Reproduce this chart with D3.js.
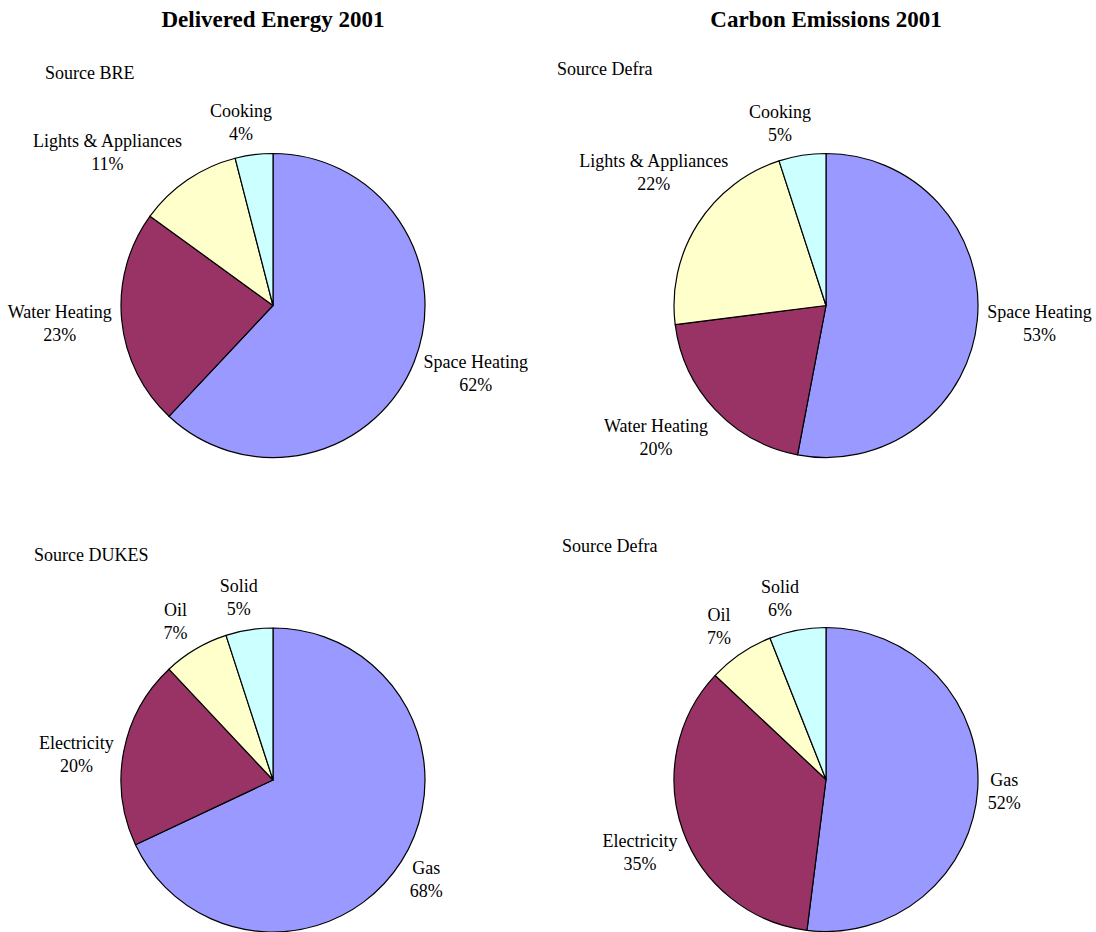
<!DOCTYPE html>
<html>
<head>
<meta charset="utf-8">
<script src="https://cdn.jsdelivr.net/npm/d3@7"></script>
<style>
  html, body { margin: 0; padding: 0; background: #fff; }
  svg { display: block; }
  text { font-family: "Liberation Serif", "Times New Roman", serif; fill: #000; }
</style>
</head>
<body>
<svg id="chart" width="1096" height="932"></svg>
<script>
// Domestic energy use in 2001, shares by end use and by fuel
const endUses = ["Space Heating", "Water Heating", "Lights & Appliances", "Cooking"];
const deliveredByUse = [62, 23, 11, 4];
const carbonByUse = [53, 20, 22, 5];

const fuels = ["Gas", "Electricity", "Oil", "Solid"];
const deliveredByFuel = [68, 20, 7, 5];
const carbonByFuel = [52, 35, 7, 6];

const sliceColours = ["#9999FF", "#993366", "#FFFFCC", "#CCFFFF"];

const columnTitles = ["Delivered Energy 2001", "Carbon Emissions 2001"];
const sources = ["Source BRE", "Source Defra", "Source DUKES", "Source Defra"];

// small hand adjustments to label placement, one [dx, dy] per slice
const labelNudges = [
  [[0, 0], [0, 0], [0, 0], [0, 0]],
  [[0, 0], [0, 5], [39, -34], [-6, 0]],
  [[0, 0], [0, 9], [-3, 0], [0, 0]],
  [[0, 0], [4, 10], [-4, 0], [-5, 0]]
];

const panels = [
  { names: endUses, values: deliveredByUse, cx: 273, cy: 305.5, source: sources[0], sx: 45, sy: 79 },
  { names: endUses, values: carbonByUse, cx: 826, cy: 305.5, source: sources[1], sx: 557, sy: 75 },
  { names: fuels, values: deliveredByFuel, cx: 273, cy: 780, source: sources[2], sx: 34, sy: 561 },
  { names: fuels, values: carbonByFuel, cx: 826, cy: 779.5, source: sources[3], sx: 562, sy: 552 }
];

const radius = 152;
const labelGap = 10;
const fontSize = 18;
const lineHeight = 23;

const svg = d3.select("#chart");

// column titles
svg.selectAll("text.title")
  .data(columnTitles)
  .join("text")
  .attr("class", "title")
  .attr("x", (d, i) => [273, 826][i])
  .attr("y", 27)
  .attr("text-anchor", "middle")
  .style("font-size", "23px")
  .style("font-weight", "bold")
  .text(d => d);

const pie = d3.pie().sort(null).value(d => d.value);
const arc = d3.arc().innerRadius(0).outerRadius(radius);
const colour = d3.scaleOrdinal().range(sliceColours);

panels.forEach((p, pi) => {
  const g = svg.append("g");

  g.append("text")
    .attr("x", p.sx)
    .attr("y", p.sy)
    .style("font-size", fontSize + "px")
    .text(p.source);

  const rows = p.names.map((name, i) => ({ name, value: p.values[i], index: i }));
  const arcs = pie(rows);

  const pieG = g.append("g").attr("transform", `translate(${p.cx},${p.cy})`);

  pieG.selectAll("path")
    .data(arcs)
    .join("path")
    .attr("d", arc)
    .attr("fill", d => colour(d.data.index))
    .attr("stroke", "#000")
    .attr("stroke-width", 1.2)
    .attr("stroke-linejoin", "round");

  // labels: anchor point just outside the rim, box pushed outward from it
  arcs.forEach(d => {
    const a = (d.startAngle + d.endAngle) / 2;
    const s = Math.sin(a), c = Math.cos(a);
    const px = p.cx + s * (radius + labelGap);
    const py = p.cy - c * (radius + labelGap);

    const t = g.append("text")
      .attr("text-anchor", "middle")
      .style("font-size", fontSize + "px");
    const l1 = t.append("tspan").text(d.data.name);
    const l2 = t.append("tspan").text(d.data.value + "%");
    const w = Math.max(l1.node().getComputedTextLength(), l2.node().getComputedTextLength());
    const h = 2 * lineHeight;

    const kx = Math.max(-1, Math.min(1, 3 * s));
    const nudge = labelNudges[pi][d.data.index];
    const bx = px + kx * w / 2 + nudge[0];
    const by = py - c * h / 2 + nudge[1];

    l1.attr("x", bx).attr("y", by - lineHeight / 2).attr("dy", "0.35em");
    l2.attr("x", bx).attr("y", by + lineHeight / 2).attr("dy", "0.35em");
  });
});
</script>
</body>
</html>
